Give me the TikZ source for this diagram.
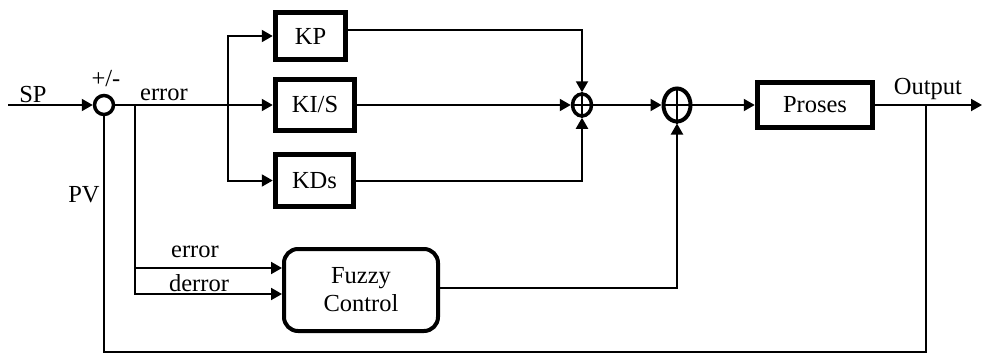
\documentclass[tikz,border=0pt]{standalone}
\usepackage{fontspec}
\setmainfont{Liberation Serif}
\usetikzlibrary{arrows.meta,shapes.geometric}
\begin{document}
\begin{tikzpicture}[x=1pt,y=-1pt,
  font=\fontsize{24.5}{28}\selectfont,
  blk/.style={draw,line width=5.5pt,inner sep=0pt,align=center},
  wire/.style={line width=2pt},
  arr/.style={wire,-{Triangle[length=11pt,width=12pt]}},
  sumc/.style={draw,circle,line width=3.5pt,inner sep=0pt,minimum size=19pt},
  lbl/.style={anchor=base,inner sep=0pt}]
\useasboundingbox (0,0) rectangle (982,356);
% blocks
\node[blk,minimum width=70pt,minimum height=47pt] (KP) at (310.5,36) {KP};
\node[blk,minimum width=79pt,minimum height=51pt] (KI) at (315,105) {KI/S};
\node[blk,minimum width=78pt,minimum height=52pt] (KD) at (314.5,180.5) {KDs};
\node[blk,minimum width=115pt,minimum height=45pt] (Pr) at (815,105) {Proses};
\node[draw,line width=4pt,rounded corners=14pt,minimum width=154pt,minimum height=82pt,align=center,inner sep=0pt] (Fz) at (361,290) {Fuzzy\\Control};
% summing junctions
\node[sumc] (s1) at (104,105) {};
\node[draw,ellipse,line width=3.5pt,inner sep=0pt,minimum width=19pt,minimum height=22pt] (s2) at (582,105) {};
\node[draw,ellipse,line width=4pt,inner sep=0pt,minimum width=27pt,minimum height=33pt] (s3) at (677,105) {};
\draw[line width=1.3pt] (s2.north) -- (s2.south) (s2.west) -- (s2.east);
\draw[line width=1.3pt] (s3.north) -- (s3.south) (s3.west) -- (s3.east);
% labels
\node[lbl] (lSP) at (33,102) {SP};
\node[lbl] (lpm) at (106,86) {+/-};
\node[lbl] (lerr) at (164,100) {error};
\node[lbl] (lPV) at (84,202) {PV};
\node[lbl] (lerr2) at (195,257) {error};
\node[lbl] (lderr) at (199,291) {derror};
\node[lbl] (lout) at (928,94) {Output};
% coordinates
\coordinate (sp) at (8,105);
\coordinate (b1) at (228,105);
\coordinate (b2) at (135,105);
\coordinate (ye) at (0,268);
\coordinate (yd) at (0,294);
\coordinate (out) at (982,105);
\coordinate (tap) at (926,105);
\coordinate (bot) at (0,352);
% connectors
\draw[arr] (sp) -- (s1.west);
\draw[arr] (s1.east) -- (KI.west);
\draw[arr] (b1) |- (KP.west);
\draw[arr] (b1) |- (KD.west);
\draw[arr] (b2) |- (Fz.west |- ye);
\draw[arr] (b2) |- (Fz.west |- yd);
\draw[arr] ([yshift=6pt]KP.east) -| (s2.north);
\draw[arr] (KI.east) -- (s2.west);
\draw[arr] (KD.east) -| (s2.south);
\draw[arr] (s2.east) -- (s3.west);
\draw[arr] (s3.east) -- (Pr.west);
\draw[arr] ([yshift=2pt]Fz.east) -| (s3.south);
\draw[arr] (Pr.east) -- (out);
\draw[wire] (tap) |- (s1.south |- bot) -- (s1.south);
\end{tikzpicture}
\end{document}
